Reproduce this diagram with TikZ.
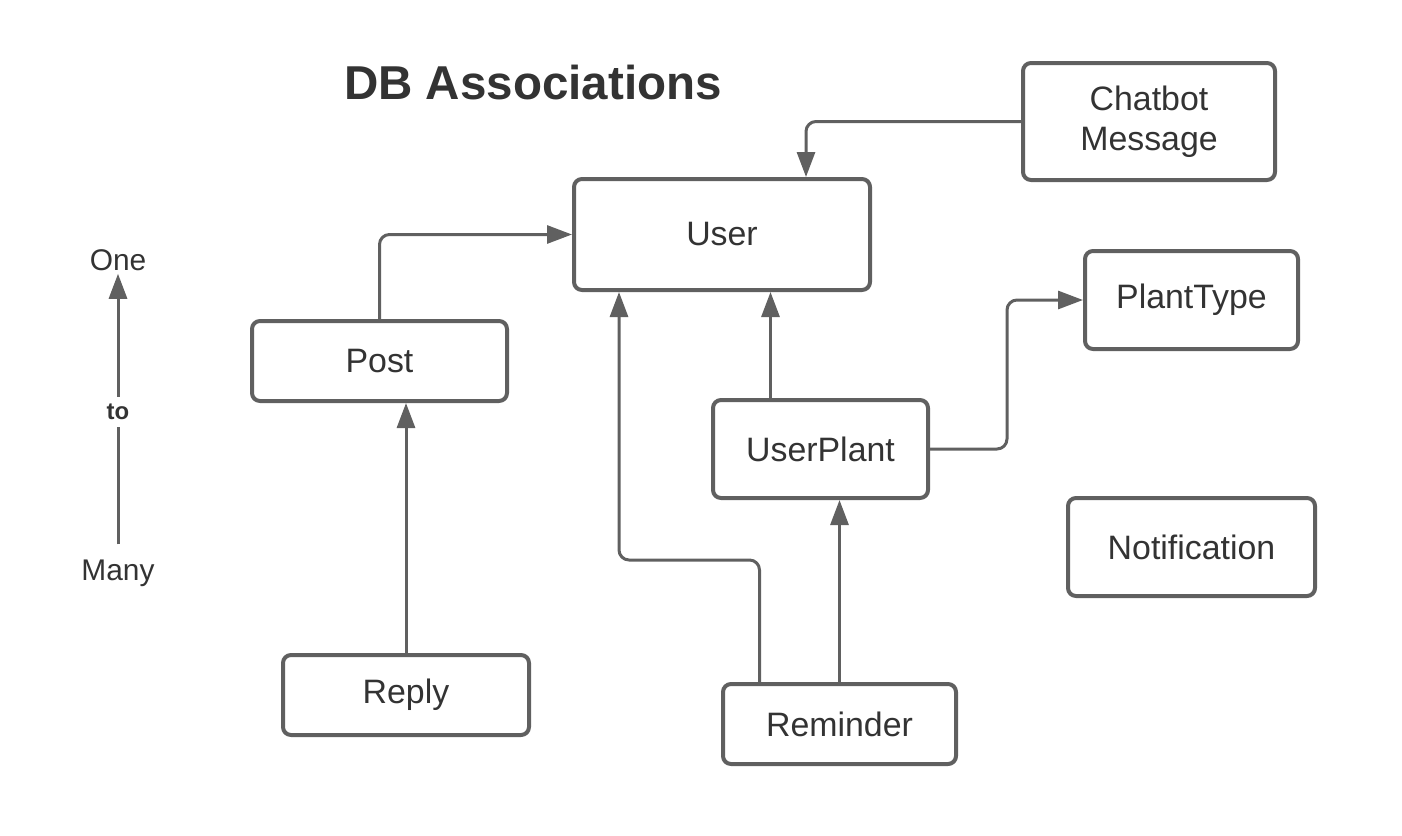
\documentclass[tikz,border=0pt]{standalone}
\usepackage{fontspec}
\setmainfont{Liberation Sans}
\usetikzlibrary{arrows.meta}
\definecolor{linegray}{HTML}{606060}
\definecolor{textgray}{HTML}{333333}
\begin{document}
\begin{tikzpicture}[x=1bp,y=-1bp,>={Triangle[length=25bp,width=18bp]}, line join=round,
	box/.style={draw=linegray,line width=4bp,rounded corners=8bp,text=textgray,font=\fontsize{34}{40}\selectfont,align=center,inner sep=0pt},
	conn/.style={draw=linegray,line width=3bp,rounded corners=10bp,->},
	legend/.style={text=textgray,font=\fontsize{30}{36}\selectfont,inner sep=7bp}]
	\useasboundingbox (0,0) rectangle (1402,835);
	\node[text=textgray,font=\fontsize{47.7}{56}\selectfont\bfseries] (title) at (533,83) {DB Associations};
	% tables
	\node[box,minimum width=296bp,minimum height=111bp] (user) at (722,234.5) {User};
	\node[box,minimum width=252bp,minimum height=117bp] (chat) at (1149,121.5) {Chatbot\\Message};
	\node[box,minimum width=213bp,minimum height=98bp] (ptype) at (1191.5,300) {PlantType};
	\node[box,minimum width=255bp,minimum height=80bp] (post) at (379.5,361) {Post};
	\node[box,minimum width=215bp,minimum height=98bp] (uplant) at (820.5,449) {UserPlant};
	\node[box,minimum width=247bp,minimum height=98bp] (notif) at (1191.5,547) {Notification};
	\node[box,minimum width=246bp,minimum height=80bp] (reply) at (406,695) {Reply};
	\node[box,minimum width=233bp,minimum height=80bp] (remind) at (839.5,724) {Reminder};
	% associations
	\draw[conn] (chat.west) -| ([xshift=84bp]user.north);
	\draw[conn] (post.north) |- (user.west);
	\draw[conn] (reply.north) -- (reply.north |- post.south);
	\draw[conn] ([xshift=-50bp]uplant.north) -- ([xshift=-50bp]uplant.north |- user.south);
	\draw[conn] (uplant.east) -- ++(77,0) |- (ptype.west);
	\draw[conn] (remind.north) -- (remind.north |- uplant.south);
	\draw[conn] ([xshift=-80bp]remind.north) -- ++(0,-122) -| ([xshift=-103bp]user.south);
	% legend
	\node[legend] (one) at (118,260) {One};
	\node[legend,font=\fontsize{24}{30}\selectfont\bfseries] (to) at (118,412) {to};
	\node[legend] (many) at (118,573) {Many};
	\draw[conn,-] ([yshift=8bp]many.north) -- (to);
	\draw[conn] (to) -- ([yshift=4bp]one.south);
\end{tikzpicture}
\end{document}
